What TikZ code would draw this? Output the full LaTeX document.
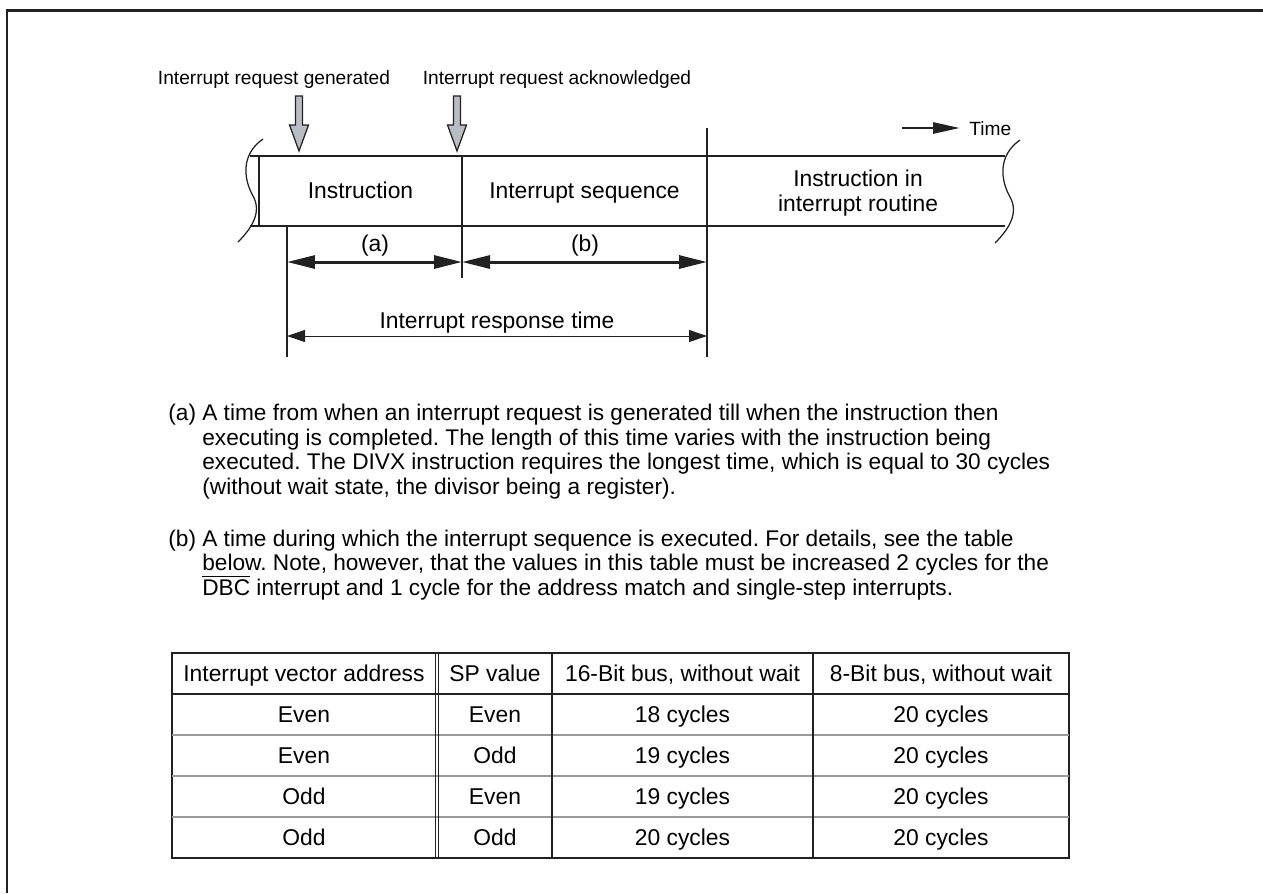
\documentclass[tikz,border=0pt]{standalone}
\usepackage{fontspec}
\setmainfont{Liberation Sans}
\usetikzlibrary{positioning}
\usetikzlibrary{arrows.meta}
\definecolor{lineColor}{rgb}{0.13,0.13,0.13}
\definecolor{arrowColor}{rgb}{0.72,0.74,0.77}
\definecolor{rowColor}{rgb}{0.6,0.6,0.6}
\frenchspacing

\begin{document}
\begin{tikzpicture}[x=0.02cm,y=-0.02cm]

          \tikzstyle{labelNode} = [inner sep=0pt, text height=7.8pt, text depth=0pt, font=\fontsize{10.9}{13}\selectfont];
          \tikzstyle{bandNode} = [inner sep=0pt, align=center, font=\fontsize{13}{14.2}\selectfont];
          \tikzstyle{capNode} = [inner sep=0pt, text height=9.3pt, text depth=0pt, font=\fontsize{13}{15}\selectfont];
          \tikzstyle{paraNode} = [inner sep=0pt, anchor=west, text height=9.2pt, text depth=0pt, font=\fontsize{12.9}{15}\selectfont];

          \tikzstyle{frameEdge} = [line width=0.06cm, lineColor];
          \tikzstyle{bandEdge} = [line width=0.045cm, lineColor];
          \tikzstyle{thinEdge} = [line width=0.025cm, lineColor];
          \tikzstyle{flagEdge} = [line width=0.025cm, lineColor, fill=arrowColor, line join=miter];
          \tikzstyle{dimEdge} = [line width=0.06cm, lineColor, arrows={Triangle[length=0.56cm,width=0.26cm]-Triangle[length=0.56cm,width=0.26cm]}];
          \tikzstyle{respEdge} = [line width=0.02cm, lineColor, arrows={Triangle[length=0.36cm,width=0.24cm]-Triangle[length=0.36cm,width=0.24cm]}];
          \tikzstyle{timeEdge} = [line width=0.055cm, lineColor, arrows={-Triangle[length=0.54cm,width=0.22cm]}];
          \tikzstyle{tableEdge} = [line width=0.04cm, lineColor];
          \tikzstyle{doubleEdge} = [line width=0.025cm, lineColor];
          \tikzstyle{rowEdge} = [line width=0.025cm, rowColor];

          \useasboundingbox (0,0) rectangle (1263,893);
          \draw[frameEdge] (1263,10) -- (7,10) -- (7,893);

          % request flags
          \node[labelNode] (genLabel) at (274,78) {Interrupt request generated};
          \node[labelNode] (ackLabel) at (557,78) {Interrupt request acknowledged};
          \coordinate (genTip) at (299,151);
          \coordinate (ackTip) at (457,151);
          \draw[flagEdge] (genTip) -- ++(-9.5,-26) -- ++(6,0) -- ++(0,-29) -- ++(7,0) -- ++(0,29) -- ++(6,0) -- cycle;
          \draw[flagEdge] (ackTip) -- ++(-9.5,-26) -- ++(6,0) -- ++(0,-29) -- ++(7,0) -- ++(0,29) -- ++(6,0) -- cycle;

          % time axis
          \coordinate (timeStart) at (902,128);
          \coordinate (timeEnd) at (960,128);
          \node[labelNode, anchor=west] (timeLabel) at (969,129) {Time};
          \draw[timeEdge] (timeStart) -- (timeEnd);

          % band
          \draw[bandEdge] (250,156) -- (1005,156);
          \draw[bandEdge] (250,226) -- (1005,226);
          \draw[bandEdge] (259,156) -- (259,226);
          \draw[thinEdge] (263,139) .. controls (240,155) and (244,180) .. (253,196) .. controls (262,212) and (252,228) .. (238,242);
          \draw[thinEdge] (1020,140) .. controls (997,156) and (1001,181) .. (1010,197) .. controls (1019,213) and (1009,229) .. (995,243);
          \draw[thinEdge] (462,156) -- (462,278);
          \draw[thinEdge] (707,128) -- (707,357);
          \draw[thinEdge] (287,226) -- (287,357);

          \node[capNode] (instr) at (360.5,190) {Instruction};
          \node[capNode] (sequence) at (584.5,190) {Interrupt sequence};
          \node[bandNode] (routine) at (858,193) {Instruction in\\interrupt routine};

          % durations
          \coordinate (aStart) at (287,262);
          \coordinate (aEnd) at (462,262);
          \coordinate (bEnd) at (707,262);
          \coordinate (respStart) at (287,336);
          \coordinate (respEnd) at (707,336);
          \draw[dimEdge] (aStart) -- (aEnd);
          \draw[dimEdge] (aEnd) -- (bEnd);
          \draw[respEdge] (respStart) -- (respEnd);
          \node[capNode] (aLabel) at (375,243) {(a)};
          \node[capNode] (bLabel) at (585,243) {(b)};
          \node[capNode] (respLabel) at (497,320) {Interrupt response time};

          % notes
          \node[paraNode] (aLine1) at (168,412.5) {(a) A time from when an interrupt request is generated till when the instruction then};
          \node[paraNode] (aLine2) at (202,437) {executing is completed. The length of this time varies with the instruction being};
          \node[paraNode] (aLine3) at (202,461.5) {executed. The DIVX instruction requires the longest time, which is equal to 30 cycles};
          \node[paraNode] (aLine4) at (202,486) {(without wait state, the divisor being a register).};
          \node[paraNode] (bLine1) at (168,538) {(b) A time during which the interrupt sequence is executed. For details, see the table};
          \node[paraNode] (bLine2) at (202,562.5) {below. Note, however, that the values in this table must be increased 2 cycles for the};
          \node[paraNode] (bLine3) at (202,587) {$\overline{\mbox{DBC}}$ interrupt and 1 cycle for the address match and single-step interrupts.};

          % table
          \draw[tableEdge] (172,653) rectangle (1069,858);
          \draw[tableEdge] (172,694) -- (1069,694);
          \draw[rowEdge] (172,735) -- (1069,735);
          \draw[rowEdge] (172,776) -- (1069,776);
          \draw[rowEdge] (172,817) -- (1069,817);
          \draw[doubleEdge] (435.5,653) -- (435.5,858);
          \draw[doubleEdge] (438.5,653) -- (438.5,858);
          \draw[tableEdge] (552,653) -- (552,858);
          \draw[tableEdge] (813,653) -- (813,858);

          \node[capNode] (headVec) at (304,673.5) {Interrupt vector address};
          \node[capNode] (headSp) at (495,673.5) {SP value};
          \node[capNode] (headWide) at (682.5,673.5) {16-Bit bus, without wait};
          \node[capNode] (headNarrow) at (941,673.5) {8-Bit bus, without wait};

          \node[capNode] (vecA) at (304,714.5) {Even};
          \node[capNode] (spA) at (495,714.5) {Even};
          \node[capNode] (wideA) at (682.5,714.5) {18 cycles};
          \node[capNode] (narrowA) at (941,714.5) {20 cycles};

          \node[capNode] (vecB) at (304,755.5) {Even};
          \node[capNode] (spB) at (495,755.5) {Odd};
          \node[capNode] (wideB) at (682.5,755.5) {19 cycles};
          \node[capNode] (narrowB) at (941,755.5) {20 cycles};

          \node[capNode] (vecC) at (304,796.5) {Odd};
          \node[capNode] (spC) at (495,796.5) {Even};
          \node[capNode] (wideC) at (682.5,796.5) {19 cycles};
          \node[capNode] (narrowC) at (941,796.5) {20 cycles};

          \node[capNode] (vecD) at (304,837.5) {Odd};
          \node[capNode] (spD) at (495,837.5) {Odd};
          \node[capNode] (wideD) at (682.5,837.5) {20 cycles};
          \node[capNode] (narrowD) at (941,837.5) {20 cycles};
        \end{tikzpicture}
\end{document}
